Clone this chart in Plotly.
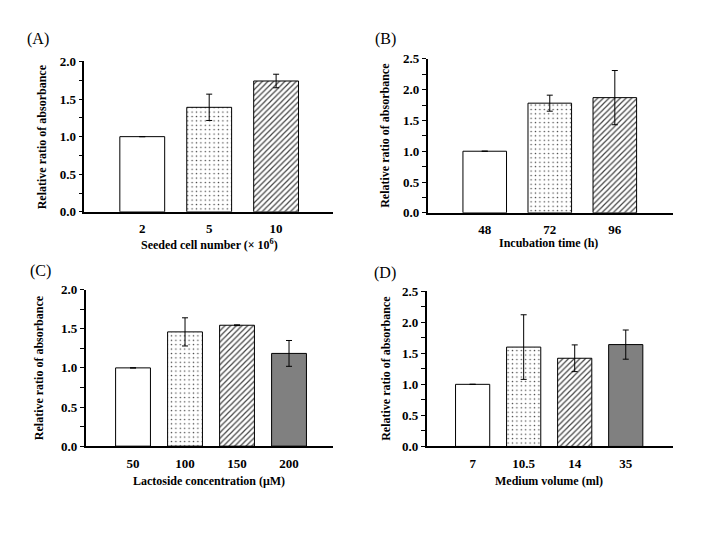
import plotly.graph_objects as go

# ---- data ----
cat_a = ["2", "5", "10"]
val_a = [1.0, 1.39, 1.74]
err_a = [0.0, 0.175, 0.09]

cat_b = ["48", "72", "96"]
val_b = [1.0, 1.78, 1.87]
err_b = [0.0, 0.13, 0.44]

cat_c = ["50", "100", "150", "200"]
val_c = [1.0, 1.46, 1.545, 1.185]
err_c = [0.0, 0.18, 0.005, 0.165]

cat_d = ["7", "10.5", "14", "35"]
val_d = [1.0, 1.6, 1.42, 1.64]
err_d = [0.0, 0.52, 0.215, 0.235]

panel_labels = ["(A)", "(B)", "(C)", "(D)"]
x_titles = ["Seeded cell number (\u00d7 10<sup>6</sup>)", "Incubation time (h)",
            "Lactoside concentration (\u03bcM)", "Medium volume (ml)"]
y_title = "Relative ratio of absorbance"

W, H = 720, 540
FONT = "Liberation Serif"

# pixel layout of each panel: (x0, x1, ytop, ybottom)
boxes = [(84.3, 333.0, 56.0, 210.7),
         (427.7, 672.7, 53.3, 211.7),
         (85.7, 332.7, 290.7, 451.7),
         (426.7, 672.7, 292.3, 452.0)]
xranges = [[-0.866, 2.85], [-0.877, 2.89], [-0.91, 3.84], [-0.9, 3.92]]
ymax = [2.0, 2.5, 2.0, 2.5]

fills = ["white", "white", "white", "#808080"]
pshapes = ["", ".", "/", ""]
psizes = [4, 4.4, 4, 4]
psolid = [0.2, 0.09, 0.3, 0.2]

fig = go.Figure()
datasets = [(cat_a, val_a, err_a), (cat_b, val_b, err_b), (cat_c, val_c, err_c), (cat_d, val_d, err_d)]

annotations = []
for i, (cats, vals, errs) in enumerate(datasets):
    n = i + 1
    xa = "x" if n == 1 else f"x{n}"
    ya = "y" if n == 1 else f"y{n}"
    k = len(cats)
    fig.add_trace(go.Bar(
        x=cats, y=vals, xaxis=xa, yaxis=ya, width=0.67,
        marker=dict(color=fills[:k], line=dict(color="black", width=1),
                    pattern=dict(shape=pshapes[:k], size=psizes[:k], solidity=psolid[:k],
                                 fgcolor="black", fgopacity=1, fillmode="overlay")),
        error_y=dict(type="data", array=errs, visible=True,
                     color="black", thickness=1, width=3),
        showlegend=False,
    ))
    x0, x1, yt, yb = boxes[i]
    dom_x = [x0 / W, x1 / W]
    dom_y = [1 - yb / H, 1 - yt / H]
    xkey = "xaxis" if n == 1 else f"xaxis{n}"
    ykey = "yaxis" if n == 1 else f"yaxis{n}"
    fig.update_layout(**{
        xkey: dict(domain=dom_x, anchor=ya, type="category", range=xranges[i],
                   showline=True, linecolor="black", linewidth=1.5, ticks="",
                   showgrid=False, zeroline=False, ticklabelstandoff=4,
                   tickfont=dict(family=FONT, size=13, color="black", weight="bold")),
        ykey: dict(domain=dom_y, anchor=xa, range=[0, ymax[i]], dtick=0.5,
                   tickformat=".1f", showline=True, linecolor="black", linewidth=1.5,
                   ticks="outside", ticklen=4, tickwidth=1, tickcolor="black",
                   minor=dict(dtick=0.25, ticks="outside", ticklen=4, tickwidth=1, tickcolor="black"),
                   showgrid=False, zeroline=False,
                   tickfont=dict(family=FONT, size=13, color="black", weight="bold")),
    })

# titles and panel labels
ytitle_x = [41.7, 385.0, 39.3, 386.0]
xtitle_y = [244.0, 242.7, 488.0, 487.7]
xtitle_x = [209.0, 548.0, 209.0, 549.0]
label_pos = [(38, 32.7), (385, 33), (40, 271.7), (385, 273.3)]
for i in range(4):
    x0, x1, yt, yb = boxes[i]
    annotations.append(dict(text=y_title, xref="paper", yref="paper",
                            x=ytitle_x[i] / W, y=1 - (yt + yb) / 2 / H, textangle=-90,
                            showarrow=False, xanchor="center", yanchor="middle",
                            font=dict(family=FONT, size=12, color="black", weight="bold")))
    annotations.append(dict(text=x_titles[i], xref="paper", yref="paper",
                            x=xtitle_x[i] / W, y=1 - xtitle_y[i] / H,
                            showarrow=False, xanchor="center", yanchor="middle",
                            font=dict(family=FONT, size=12, color="black", weight="bold")))
    lx, ly = label_pos[i]
    annotations.append(dict(text=panel_labels[i], xref="paper", yref="paper",
                            x=lx / W, y=1 - ly / H, showarrow=False,
                            xanchor="center", yanchor="middle",
                            font=dict(family=FONT, size=16, color="black")))

fig.update_layout(width=W, height=H, margin=dict(l=0, r=0, t=0, b=0),
                  paper_bgcolor="white", plot_bgcolor="white",
                  annotations=annotations)

fig.write_html("out.html", config={"displayModeBar": False},
               post_script="document.body.style.margin='0';document.body.style.overflow='hidden';")
